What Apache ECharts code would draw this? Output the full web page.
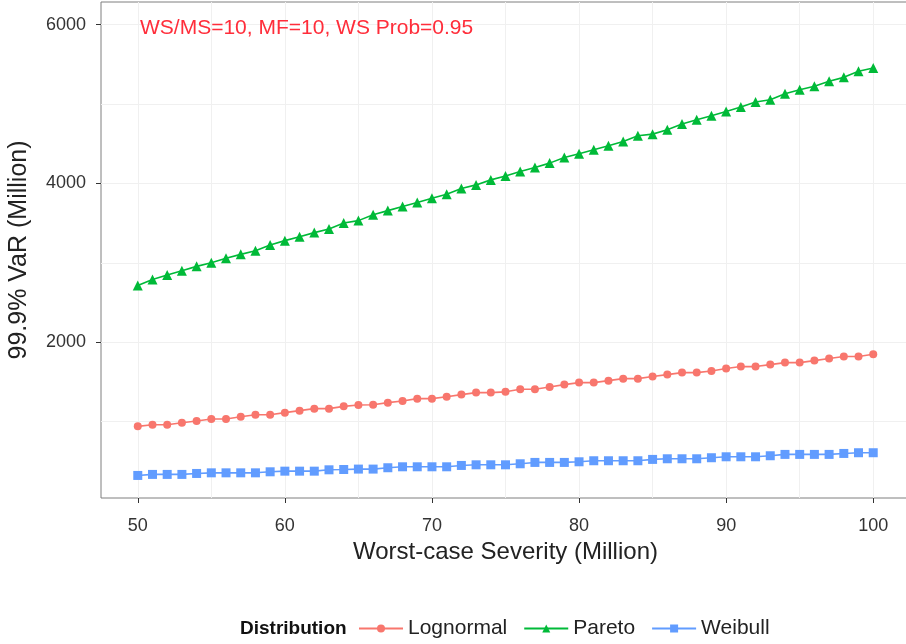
<!DOCTYPE html>
<html><head><meta charset="utf-8">
<script src="https://cdn.jsdelivr.net/npm/echarts@6/dist/echarts.min.js"></script>
<style>html,body{margin:0;padding:0;background:#fff}#c{width:906px;height:644px}</style>
</head><body><div id="c"></div>
<script>
const severity = [50,51,52,53,54,55,56,57,58,59,60,61,62,63,64,65,66,67,68,69,70,71,72,73,74,75,76,77,78,79,80,81,82,83,84,85,86,87,88,89,90,91,92,93,94,95,96,97,98,99,100];
const lognormal = [940,961,961,986,1007,1033,1033,1062,1087,1087,1113,1138,1163,1163,1192,1209,1213,1239,1260,1289,1289,1314,1340,1365,1365,1375,1407,1407,1436,1466,1491,1491,1516,1541,1541,1567,1592,1617,1617,1638,1668,1693,1693,1718,1743,1743,1768,1794,1819,1819,1848];
const pareto = [2715,2790,2845,2900,2955,3001,3056,3106,3152,3225,3279,3329,3380,3426,3500,3531,3605,3657,3708,3758,3813,3863,3935,3981,4044,4092,4149,4200,4255,4326,4372,4423,4473,4528,4599,4620,4675,4747,4801,4852,4906,4961,5024,5054,5129,5180,5222,5285,5335,5411,5453];
const weibull = [322,335,335,335,347,355,355,355,355,368,376,376,376,393,397,402,402,419,431,431,431,431,448,456,456,456,469,486,486,486,494,507,507,507,507,524,532,532,532,545,557,557,557,570,587,587,587,587,599,608,608];
const seriesNames = ['Lognormal','Pareto','Weibull'];
const xTicks = [50,60,70,80,90,100];
const yTicks = [2000,4000,6000];
const xGridLines = [50,55,60,65,70,75,80,85,90,95,100];
const yGridLines = [1000,2000,3000,4000,5000,6000];
const annotation = 'WS/MS=10, MF=10, WS Prob=0.95';

const FONT = 'Liberation Sans, Arial, sans-serif';
const colors = ['#F8766D','#00BA38','#619CFF'];
const symbols = ['circle','triangle','rect'];
const symSizes = [8,10,9];
const values = [lognormal, pareto, weibull];

const chart = echarts.init(document.getElementById('c'), null, {renderer:'canvas'});
const xRange = {min:47.5, max:102.5};
const yRange = {min:38, max:6284};
const plain = v => String(v);
chart.setOption({
  animation:false,
  backgroundColor:'#fff',
  textStyle:{fontFamily:FONT},
  title:[
    {text:annotation, left:135, top:13, textStyle:{color:'#ff2d3a', fontSize:21, fontWeight:'normal', fontFamily:FONT}},
    {text:'Distribution', left:240, top:619, padding:0, textStyle:{color:'#111', fontSize:19, fontWeight:'bold', fontFamily:FONT}}
  ],
  legend:{
    data:seriesNames, left:358, top:618, padding:0, itemWidth:44, itemHeight:10, itemGap:16,
    textStyle:{fontSize:21, color:'#222', fontFamily:FONT}
  },
  grid:{left:101, top:2, width:809, height:496, outerBoundsMode:'none', containLabel:false,
        show:true, borderColor:'#7f7f7f', borderWidth:1, backgroundColor:'transparent'},
  xAxis:[
    {type:'value', ...xRange, position:'bottom',
     name:'Worst-case Severity (Million)', nameLocation:'middle', nameGap:40,
     nameTextStyle:{fontSize:24, color:'#222', fontFamily:FONT},
     axisLine:{show:false},
     axisTick:{show:true, length:5, lineStyle:{color:'#333'}, customValues:xTicks},
     axisLabel:{fontSize:18, color:'#333', margin:19, customValues:xTicks, formatter:plain, fontFamily:FONT},
     splitLine:{show:false}},
    {type:'value', ...xRange, position:'top', show:true,
     axisLine:{show:false}, axisTick:{show:false, customValues:xGridLines}, axisLabel:{show:false, customValues:xGridLines},
     splitLine:{show:true, lineStyle:{color:'#f0f0f0', width:1}}}
  ],
  yAxis:[
    {type:'value', ...yRange, position:'left',
     name:'99.9% VaR (Million)', nameLocation:'middle', nameGap:69, nameRotate:90,
     nameTextStyle:{fontSize:25, color:'#222', fontFamily:FONT},
     axisLine:{show:false},
     axisTick:{show:true, length:5, lineStyle:{color:'#333'}, customValues:yTicks},
     axisLabel:{fontSize:18, color:'#333', margin:15, customValues:yTicks, formatter:plain, fontFamily:FONT},
     splitLine:{show:false}},
    {type:'value', ...yRange, position:'right', show:true,
     axisLine:{show:false}, axisTick:{show:false, customValues:yGridLines}, axisLabel:{show:false, customValues:yGridLines},
     splitLine:{show:true, lineStyle:{color:'#f0f0f0', width:1}}}
  ],
  series: seriesNames.map((name,k)=>({
    name, type:'line', xAxisIndex:0, yAxisIndex:0,
    data: severity.map((x,i)=>[x, values[k][i]]),
    symbol:symbols[k], symbolSize:symSizes[k], showSymbol:true,
    itemStyle:{color:colors[k]}, lineStyle:{color:colors[k], width:1.6},
    emphasis:{disabled:true}
  }))
});
</script></body></html>
